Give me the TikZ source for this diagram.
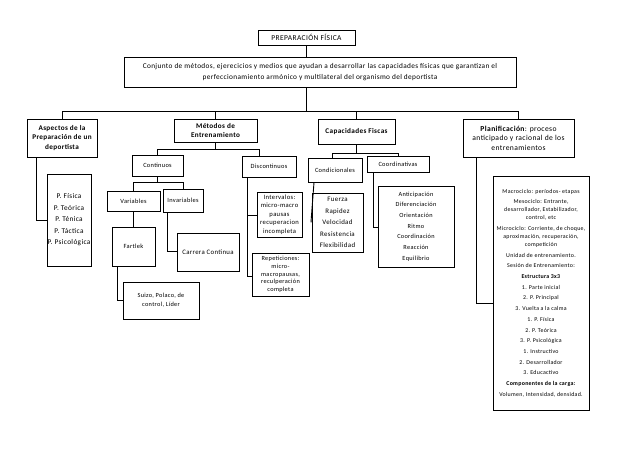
\documentclass[tikz,border=0pt]{standalone}
\usepackage{fontspec}
\setmainfont[LetterSpace=5]{Carlito}
\newcommand{\fs}[2]{\fontsize{#1}{#2}\selectfont}
\begin{document}
\begin{tikzpicture}[x=1pt,y=-1pt,
  bx/.style={draw=black,line width=0.9pt,inner sep=0pt,align=center,fill=white},
  ln/.style={draw=black,line width=0.9pt}]
\useasboundingbox[fill=white] (0,0) rectangle (638,452);
% top
\node[bx,minimum width=97,minimum height=15,font=\fs{7.5}{8}] (title) at (306.5,37.5) {PREPARACIÓN FÍSICA};
\node[bx,minimum width=392,minimum height=30,font=\fs{7.3}{11}] (conj) at (320,72) {Conjunto de métodos, ejerecicios y medios que ayudan a desarrollar las capacidades físicas que garantizan el\\perfeccionamiento armónico y multilateral del organismo del deportista};
% level 1
\node[bx,minimum width=70,minimum height=38,font=\fs{7.2}{9.5}\bfseries] (asp) at (62,138) {Aspectos de la\\Preparación de un\\deportista};
\node[bx,minimum width=83,minimum height=23,font=\fs{7.2}{9.5}\bfseries] (met) at (215.5,130.5) {Métodos de\\Entrenamiento};
\node[bx,minimum width=77,minimum height=25,font=\fs{7.2}{9.5}\bfseries] (cap) at (356.5,131.5) {Capacidades Fiscas};
\node[bx,minimum width=111,minimum height=38,font=\fs{7.6}{9.5}] (plan) at (518.5,138) {\textbf{Planificación}: proceso\\anticipado y racional de los\\entrenamientos};
% level 2
\node[bx,minimum width=51,minimum height=21,font=\fs{6.4}{8}] (cont) at (157.5,165.5) {Continuos};
\node[bx,minimum width=54,minimum height=21,font=\fs{6.4}{8}] (disc) at (269,166.5) {Discontinuos};
\node[bx,minimum width=54,minimum height=24,font=\fs{6.4}{8}] (cond) at (335,170) {Condicionales};
\node[bx,minimum width=62,minimum height=16,font=\fs{6.4}{8}] (coord) at (398,164) {Coordinativas};
% lower
\node[bx,minimum width=44,minimum height=92,font=\fs{7.3}{11.5}] (pbox) at (69,220) {P. Física\\P. Teórica\\P. Ténica\\P. Táctica\\P. Psicológica};
\node[bx,minimum width=53,minimum height=20,font=\fs{6.4}{8}] (var) at (133.5,201) {Variables};
\node[bx,minimum width=40,minimum height=23,font=\fs{6.4}{8}] (inv) at (183,200.5) {Invariables};
\node[bx,minimum width=43,minimum height=39,font=\fs{6.4}{8}] (fart) at (133.5,246.5) {Fartlek};
\node[bx,minimum width=62,minimum height=38,font=\fs{6.8}{8}] (carr) at (208,252) {Carrera Continua};
\node[bx,minimum width=76,minimum height=37,font=\fs{6.3}{9}] (suizo) at (161,300.5) {Suizo, Polaco, de\\control, Líder};
\node[bx,minimum width=45,minimum height=45,font=\fs{6.6}{8.5}] (interv) at (279.5,214.5) {Intervalos:\\micro-macro\\pausas\\recuperacion\\incompleta};
\node[bx,minimum width=57,minimum height=43,font=\fs{6.3}{7.8}] (repet) at (280.5,274.5) {Repeticiones:\\micro-\\macropausas,\\reculperación\\completa};
\node[bx,minimum width=51,minimum height=59,font=\fs{6.9}{11.5}] (fuer) at (337.5,222.5) {Fuerza\\Rapidez\\Velocidad\\Resistencia\\Flexibilidad};
\node[bx,minimum width=76,minimum height=81,font=\fs{6.3}{10.7}] (antic) at (416,226.5) {Anticipación\\Diferenciación\\Orientación\\Ritmo\\Coordinación\\Reacción\\Equilibrio};
\node[bx,minimum width=96,minimum height=234,font=\fs{5.9}{10.7}] (big) at (541,293) {Macrociclo: períodos- etapas\\Mesociclo: Entrante,\\[-2.7pt]desarrollador, Estabilizador,\\[-2.7pt]control, etc\\Microciclo: Corriente, de choque,\\[-2.7pt]aproximación, recuperación,\\[-2.7pt]competición\\Unidad de entrenamiento.\\Sesión de Entrenamiento:\\\textbf{Estructura 3x3}\\1. Parte inicial\\2. P. Principal\\3. Vuelta a la calma\\1. P. Física\\2. P. Teórica\\3. P. Psicológica\\1. Instructivo\\2. Desarrollador\\3. Educactivo\\\textbf{Componentes de la carga:}\\Volumen, Intensidad, densidad.};
% coordinates
\coordinate (busL) at (62,111);
\coordinate (mb) at (0,149);
\coordinate (mbR) at (259,149);
\coordinate (cbL) at (332,153);
\coordinate (cbR) at (398,153);
\coordinate (aspd) at (36,220);
\coordinate (cvb) at (0,182);
\coordinate (ic) at (167,251);
\coordinate (fs) at (117,300);
\coordinate (dv) at (247,276);
\coordinate (di) at (247,215);
\coordinate (cx) at (314,182);
\coordinate (cf) at (311,222);
\coordinate (ca) at (373,227);
\coordinate (pb) at (476,303);
% connectors
\draw[ln] (title.south) -- (title.south |- conj.north);
\draw[ln] (title.south |- conj.south) -- (title.south |- busL);
\draw[ln] (asp.north) -- (asp.north |- busL) -- (plan.north |- busL) -- (plan.north);
\draw[ln] (met.north) -- (met.north |- busL);
\draw[ln] (cap.north) -- (cap.north |- busL);
\draw[ln] (met.south) -- (met.south |- mb);
\draw[ln] (cont.north) |- (mbR) -- (mbR |- disc.north);
\draw[ln] (cap.south) -- (cap.south |- cbL);
\draw[ln] (cbL |- cond.north) -- (cbL) -- (cbR) -- (cbR |- coord.north);
\draw[ln] (asp.south -| aspd) -- (aspd) -- (aspd -| pbox.west);
\draw[ln] (cont.south) -- (cont.south |- cvb);
\draw[ln] (var.north) -- (var.north |- cvb) -- (inv.north |- cvb) -- (inv.north);
\draw[ln] (var.south) -- (fart.north);
\draw[ln] (inv.south -| ic) -- (ic) -- (ic -| carr.west);
\draw[ln] (fart.south -| fs) -- (fs) -- (fs -| suizo.west);
\draw[ln] (disc.south -| dv) -- (dv) -- (dv -| repet.west);
\draw[ln] (di) -- (di -| interv.west);
\draw[ln] (cond.south -| cx) -- (cf) -- (cf -| fuer.west);
\draw[ln] (coord.south -| ca) -- (ca) -- (ca -| antic.west);
\draw[ln] (plan.south -| pb) -- (pb) -- (pb -| big.west);
\end{tikzpicture}
\end{document}
